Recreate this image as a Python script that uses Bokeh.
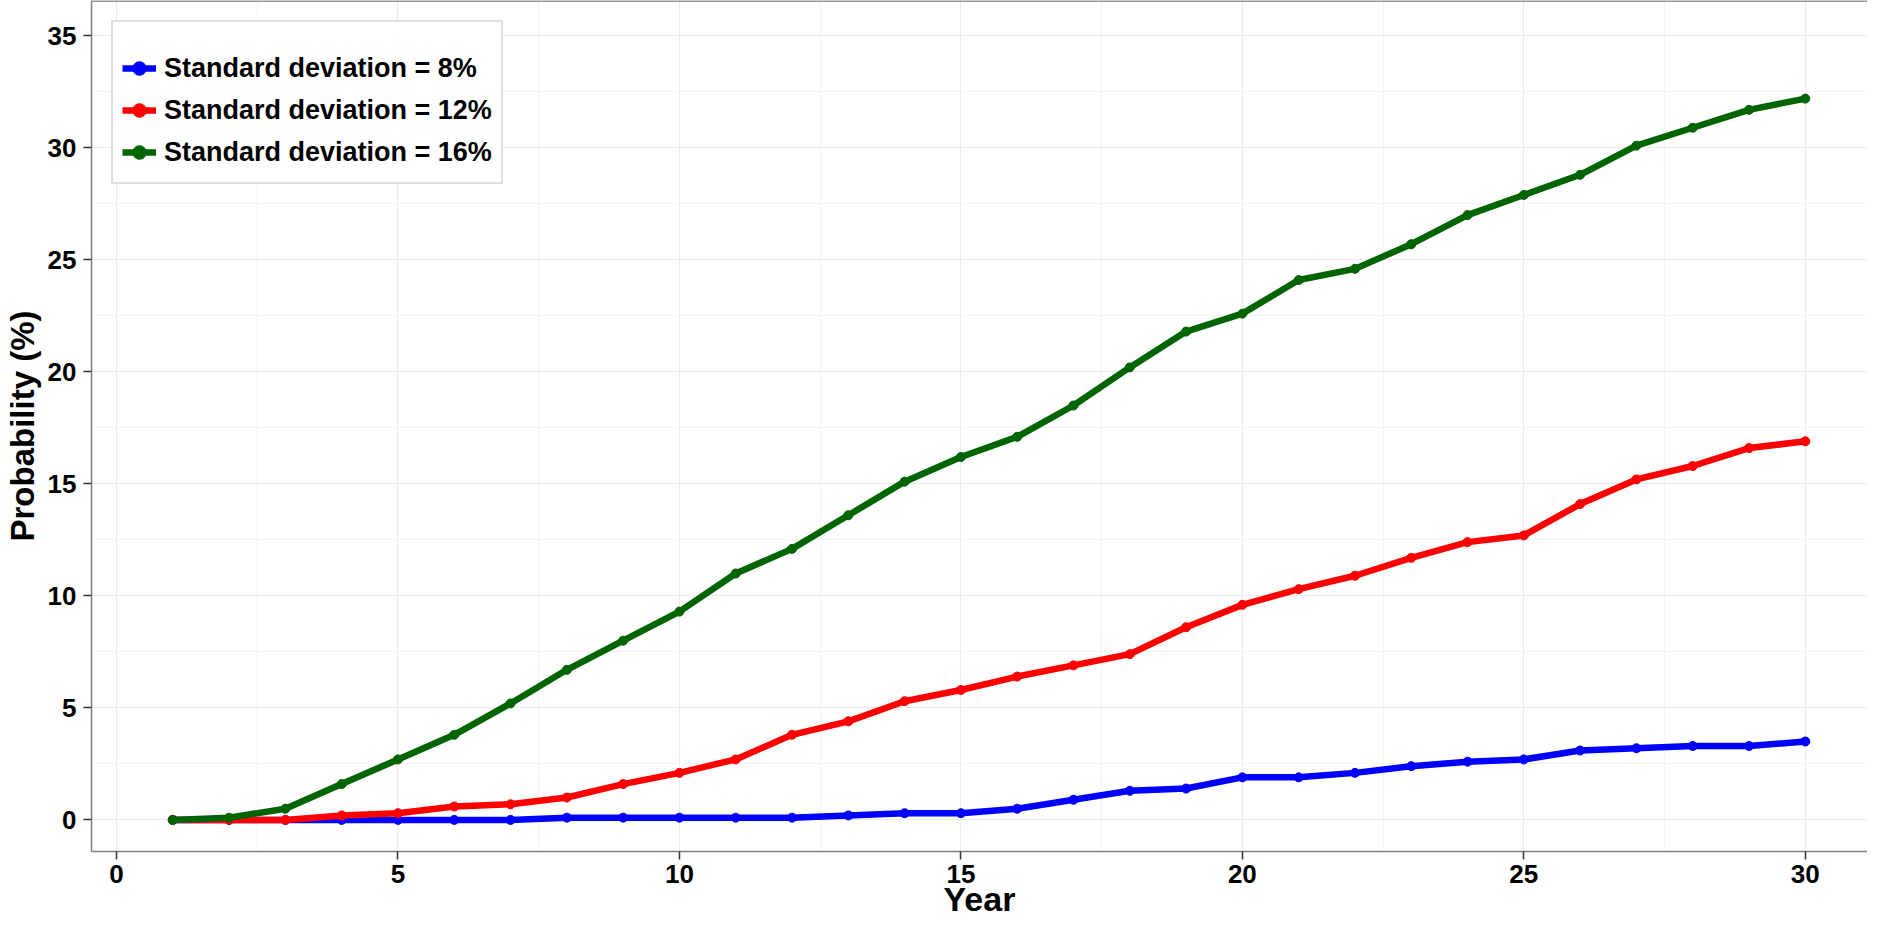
from bokeh.plotting import figure
from bokeh.models import Range1d, Legend, LegendItem, SingleIntervalTicker, Span
from bokeh.embed import file_html
from bokeh.resources import INLINE

years = list(range(1, 31))
sd8 = [0, 0, 0, 0, 0, 0, 0, 0.1, 0.1, 0.1, 0.1, 0.1, 0.2, 0.3, 0.3, 0.5, 0.9, 1.3, 1.4, 1.9,
       1.9, 2.1, 2.4, 2.6, 2.7, 3.1, 3.2, 3.3, 3.3, 3.5]
sd12 = [0, 0, 0, 0.2, 0.3, 0.6, 0.7, 1.0, 1.6, 2.1, 2.7, 3.8, 4.4, 5.3, 5.8, 6.4, 6.9, 7.4, 8.6, 9.6,
        10.3, 10.9, 11.7, 12.4, 12.7, 14.1, 15.2, 15.8, 16.6, 16.9]
sd16 = [0, 0.1, 0.5, 1.6, 2.7, 3.8, 5.2, 6.7, 8.0, 9.3, 11.0, 12.1, 13.6, 15.1, 16.2, 17.1, 18.5, 20.2, 21.8, 22.6,
        24.1, 24.6, 25.7, 27.0, 27.9, 28.8, 30.1, 30.9, 31.7, 32.2]
labels = ["Standard deviation = 8%", "Standard deviation = 12%", "Standard deviation = 16%"]
colors = ["#0000FF", "#FF0000", "#006400"]
x_title = "Year"
y_title = "Probability (%)"

FONT = "Liberation Sans"
Y_END = 36.58

p = figure(width=1867, height=920, output_backend="svg", toolbar_location=None,
           x_range=Range1d(-0.444, 31.105), y_range=Range1d(-1.41, Y_END),
           min_border_left=86, min_border_right=0, min_border_top=0, min_border_bottom=0,
           background_fill_color="white", border_fill_color="white")

for ax in (p.xaxis, p.yaxis):
    ax.ticker = SingleIntervalTicker(interval=5, num_minor_ticks=2)
    ax.axis_line_color = "#7F7F7F"
    ax.axis_line_width = 1.5
    ax.major_tick_line_color = "#333333"
    ax.major_tick_line_width = 1.5
    ax.major_tick_out = 8
    ax.major_tick_in = 0
    ax.minor_tick_line_color = None
    ax.major_label_text_font = FONT
    ax.major_label_text_font_style = "bold"
    ax.major_label_text_font_size = "26px"
    ax.major_label_text_color = "black"
    ax.axis_label_text_font = FONT
    ax.axis_label_text_font_style = "bold"
    ax.axis_label_text_font_size = "33px"
    ax.axis_label_text_color = "black"

p.xaxis.axis_label = x_title
p.xaxis.major_label_standoff = 5
p.xaxis.axis_label_standoff = -6
p.xaxis.axis_label_text_font_size = "34px"
p.yaxis.axis_label = y_title
p.yaxis.major_label_standoff = 7
p.yaxis.axis_label_standoff = 4

for g in (p.xgrid, p.ygrid):
    g.grid_line_color = "#EBEBEB"
    g.grid_line_width = 1
    g.minor_grid_line_color = "#F3F3F3"
    g.minor_grid_line_width = 1

p.outline_line_color = None
p.add_layout(Span(location=Y_END, dimension="width", line_color="#9A9A9A", line_width=3))

items = []
for vals, col, lab in zip([sd8, sd12, sd16], colors, labels):
    l = p.line(years, vals, line_color=col, line_width=6.5)
    s = p.scatter(years, vals, size=9, fill_color=col, line_color=col)
    items.append(LegendItem(label=lab, renderers=[l, s]))

legend = Legend(items=items, location="top_left")
legend.title = " "
legend.title_text_font_size = "14px"
legend.title_standoff = 0
legend.border_line_color = "#BEBEBE"
legend.border_line_width = 2
legend.label_text_font = FONT
legend.label_text_font_style = "bold"
legend.label_text_font_size = "27px"
legend.label_text_color = "black"
legend.glyph_width = 34
legend.glyph_height = 42
legend.label_height = 42
legend.spacing = 0
legend.padding = 9
legend.margin = 20
legend.label_standoff = 8
legend.background_fill_color = "white"
p.add_layout(legend)

open("out.html", "w").write(file_html(p, INLINE))
